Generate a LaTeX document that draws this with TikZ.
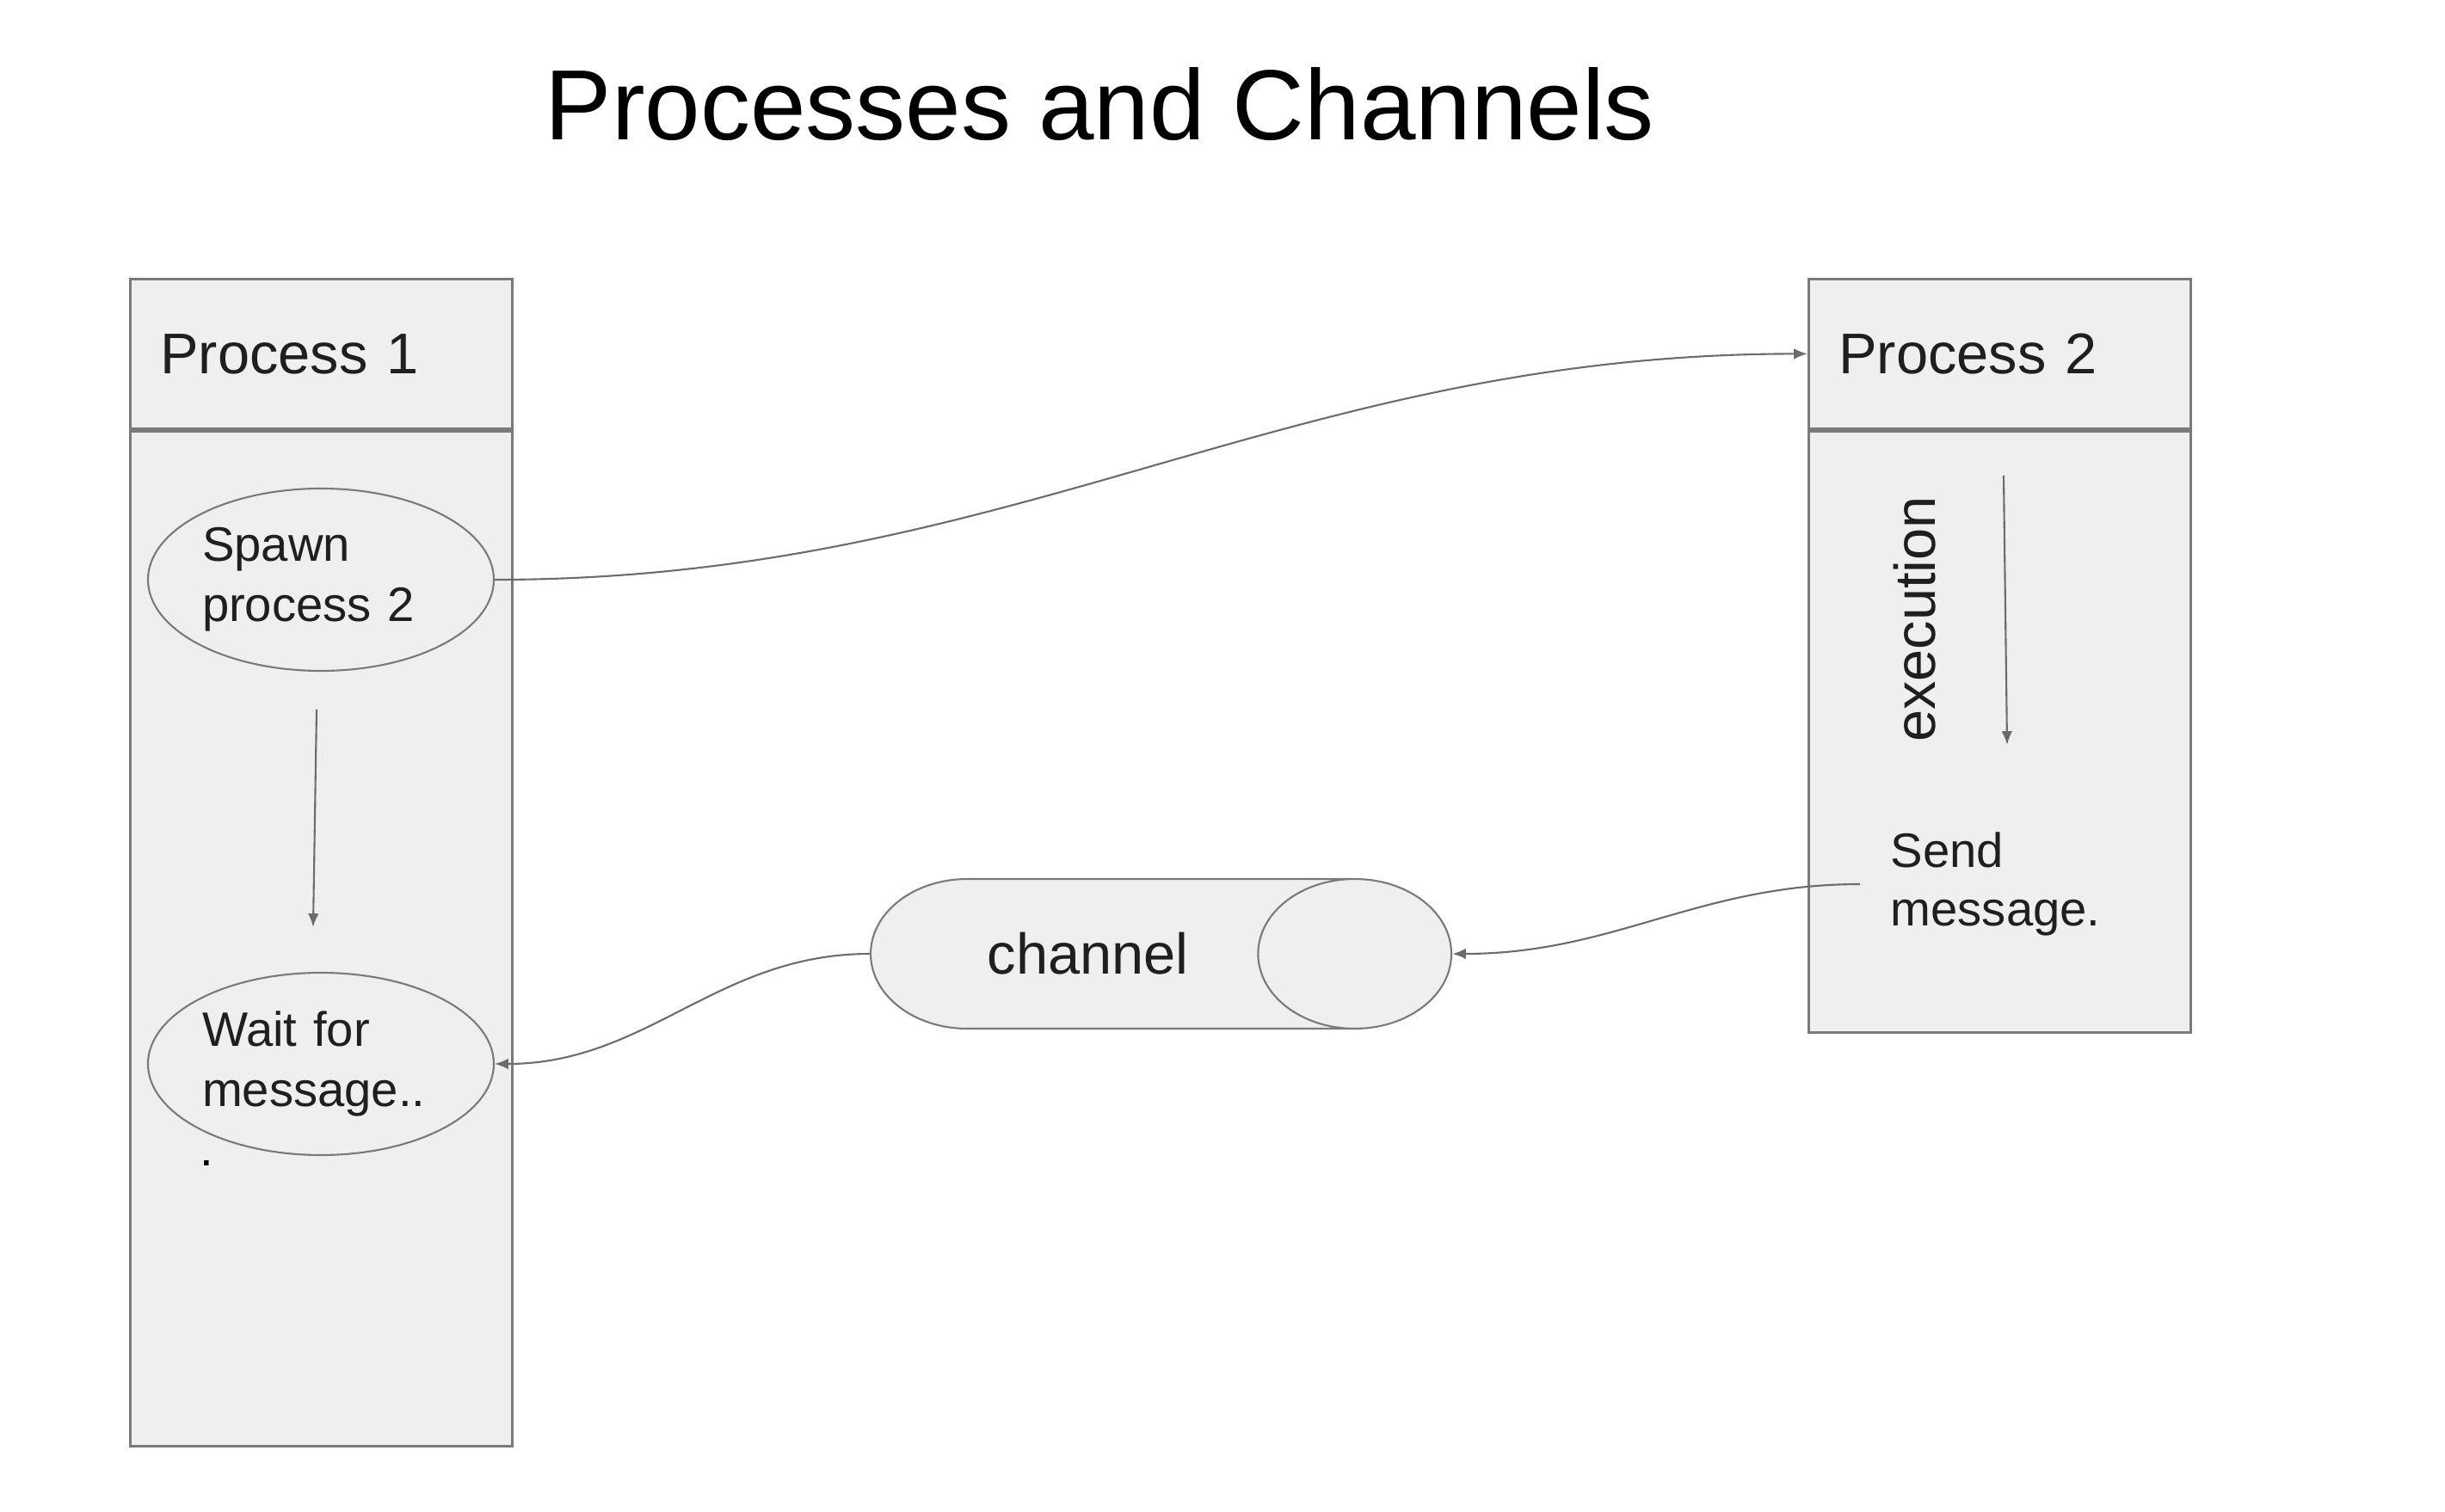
\documentclass[tikz,border=0pt]{standalone}
\usepackage{fontspec}
\setmainfont{Liberation Sans}
\usetikzlibrary{arrows.meta,positioning,shapes.geometric}
\definecolor{boxfill}{HTML}{EFEFEF}
\definecolor{edgegray}{HTML}{7A7A7A}
\definecolor{linegray}{HTML}{6C6C6C}
\tikzset{>={Latex[length=4.5pt,width=3.6pt]}}

\begin{document}
\begin{tikzpicture}
	\tikzset{phead/.style={draw=edgegray, line width=.8pt, fill=boxfill, rectangle, align=left,
			minimum width=4.44cm, minimum height=1.74cm, text width=3.74cm, inner xsep=.35cm,
			font=\fontsize{19}{22}\selectfont, text=black!88},
		pbody/.style={draw=edgegray, line width=.8pt, fill=boxfill, rectangle, minimum width=4.44cm},
		oval/.style={draw=edgegray, line width=.6pt, fill=boxfill, ellipse, align=left, text width=2.76cm,
			minimum width=4.02cm, minimum height=2.12cm, inner sep=0pt,
			font=\fontsize{16}{20}\selectfont, text=black!88},
		conn/.style={draw=linegray, line width=.6pt, ->},
	}
	\useasboundingbox (0,0) rectangle (28.42,-17.58);
	\node [anchor=base west, inner sep=0pt, font=\fontsize{33}{40}\selectfont] (title) at (6.33,-1.63) {Processes and Channels};
	% process 1
	\node [phead, anchor=north west] (p1head) at (1.50,-3.23) {Process 1};
	\node [pbody, minimum height=11.8cm, below = 0cm of p1head] (p1body) {};
	\node [oval] (spawn) at (3.73,-6.74) {Spawn\\process 2};
	\node [oval] (wait) at (3.73,-12.37) {Wait for\\message..};
	\node [inner sep=0pt, font=\fontsize{16}{18}\selectfont] (dot) at (2.40,-13.52) {.};
	\coordinate (p1top) at (3.68,-8.25);
	\coordinate (p1bot) at (3.64,-10.78);
	\draw [conn] (p1top) -- (p1bot);
	% process 2
	\node [phead, anchor=north west] (p2head) at (21.01,-3.23) {Process 2};
	\node [pbody, minimum height=6.99cm, below = 0cm of p2head] (p2body) {};
	\node [rotate=90, inner sep=0pt, font=\fontsize{19}{22}\selectfont, text=black!88] (exec) at (22.26,-7.20) {execution};
	\coordinate (p2top) at (23.29,-5.53);
	\coordinate (p2bot) at (23.33,-8.66);
	\draw [conn] (p2top) -- (p2bot);
	\node [anchor=west, align=left, inner xsep=.35cm, inner ysep=0pt, font=\fontsize{16}{19.5}\selectfont, text=black!88] (send) at (21.62,-10.28) {Send\\message.};
	% channel
	\node [cylinder, draw=edgegray, line width=.6pt, fill=boxfill, minimum height=6.75cm, minimum width=1.74cm,
		aspect=3.1, anchor=west, font=\fontsize{19}{22}\selectfont, text=black!88] (chan) at (10.11,-11.09) {channel};
	% connectors
	\draw [conn] (spawn.east) to[out=0,in=180] (p2head.west);
	\draw [conn] (chan.west) to[out=180,in=0] (wait.east);
	\draw [conn] (send.west) to[out=180,in=0] (chan.east);
\end{tikzpicture}
\end{document}
